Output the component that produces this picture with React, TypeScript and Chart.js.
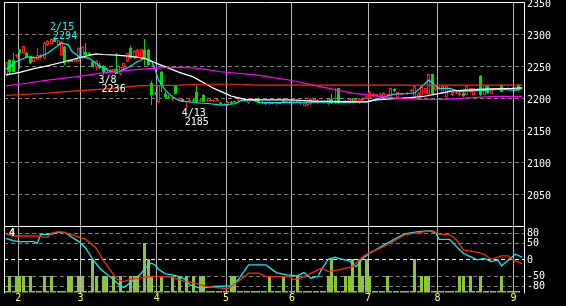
import React, { useEffect, useRef } from 'react';
import { Chart, registerables } from 'chart.js';

Chart.register(...registerables);

// ---------- data ----------
const OPEN = [
  2236, 2259, 2259, 2265, 2276, 2271, 2270, 2265, 2257, 2260,
  2262, 2262, 2283, 2285, 2294, 2283, 2267, 2280, 2256, 2259,
  2257, 2258, 2262, 2272, 2270, 2257, 2249, 2252, 2250, 2239,
  2242, 2241, 2245, 2237, 2247, 2258, 2278, 2262, 2264, 2262,
  2275, 2275, 2223, 2208, 2194, 2240, 2207, 2202, 2198, 2220,
  2198, 2198, 2193, 2195, 2197, 2210, 2196, 2205, 2195, 2197,
  2196, 2196, 2192, 2189, 2189, 2193, 2194, 2196, 2197, 2195,
  2192, 2197, 2198, 2199, 2193, 2193, 2190, 2192, 2190, 2192,
  2195, 2193, 2194, 2193, 2193, 2190, 2188, 2189, 2190, 2193,
  2192, 2194, 2195, 2190, 2199, 2192, 2215, 2193, 2194, 2192,
  2198, 2196, 2192, 2195, 2199, 2200, 2204, 2203, 2201, 2202,
  2204, 2200, 2214, 2200, 2205, 2200, 2206, 2211, 2200, 2203,
  2202, 2208, 2206, 2237, 2212, 2214, 2208, 2202, 2210, 2204,
  2208, 2204, 2208, 2205, 2209, 2205, 2212, 2234, 2205, 2219,
  2207, 2213, 2214, 2220, 2213, 2214, 2214, 2213, 2221,
];
const HIGH = [
  2257, 2261, 2270, 2268, 2277, 2282, 2272, 2266, 2265, 2278,
  2268, 2287, 2290, 2293, 2294, 2291, 2289, 2282, 2261, 2260,
  2262, 2279, 2281, 2286, 2272, 2259, 2259, 2254, 2252, 2249,
  2245, 2246, 2270, 2249, 2255, 2271, 2281, 2275, 2276, 2277,
  2292, 2277, 2226, 2210, 2221, 2242, 2209, 2204, 2201, 2221,
  2201, 2199, 2196, 2198, 2199, 2218, 2198, 2206, 2198, 2199,
  2198, 2199, 2194, 2192, 2195, 2195, 2196, 2198, 2199, 2198,
  2200, 2200, 2200, 2200, 2195, 2194, 2193, 2194, 2193, 2194,
  2200, 2195, 2196, 2195, 2196, 2195, 2193, 2194, 2200, 2199,
  2199, 2197, 2197, 2199, 2207, 2215, 2216, 2196, 2197, 2200,
  2200, 2199, 2200, 2200, 2203, 2211, 2208, 2207, 2208, 2209,
  2207, 2216, 2215, 2210, 2208, 2202, 2209, 2214, 2220, 2209,
  2220, 2216, 2238, 2238, 2220, 2218, 2220, 2220, 2214, 2210,
  2211, 2209, 2210, 2220, 2216, 2216, 2215, 2236, 2221, 2220,
  2216, 2216, 2216, 2222, 2216, 2217, 2216, 2216, 2222,
];
const LOW = [
  2234, 2238, 2240, 2262, 2246, 2270, 2263, 2253, 2256, 2259,
  2261, 2261, 2282, 2284, 2287, 2282, 2266, 2252, 2255, 2256,
  2256, 2257, 2261, 2266, 2265, 2248, 2244, 2246, 2236, 2238,
  2240, 2240, 2237, 2236.5, 2246, 2257, 2261, 2261, 2263, 2261,
  2251, 2250, 2189, 2204, 2192, 2210, 2200, 2198, 2196, 2206,
  2197, 2193, 2185, 2193, 2194, 2193, 2194, 2193, 2194, 2195,
  2194, 2195, 2189, 2188, 2188, 2191, 2192, 2194, 2195, 2194,
  2191, 2196, 2195, 2192, 2191, 2189, 2189, 2190, 2189, 2190,
  2193, 2192, 2192, 2191, 2192, 2189, 2187, 2188, 2189, 2192,
  2191, 2193, 2193, 2189, 2191, 2191, 2191, 2192, 2193, 2191,
  2196, 2195, 2191, 2194, 2198, 2199, 2202, 2202, 2200, 2200,
  2203, 2199, 2210, 2199, 2204, 2199, 2205, 2210, 2199, 2202,
  2201, 2207, 2205, 2206, 2211, 2212, 2207, 2201, 2209, 2203,
  2206, 2203, 2202, 2204, 2208, 2204, 2211, 2203, 2204, 2207,
  2206, 2212, 2212, 2209, 2212, 2213, 2213, 2212, 2211,
];
const CLOSE = [
  2256, 2240, 2241, 2267, 2271, 2281, 2264, 2254, 2264, 2267,
  2267, 2286, 2289, 2292, 2288, 2290, 2288, 2254, 2260, 2257,
  2261, 2278, 2280, 2267, 2266, 2249, 2258, 2247, 2240, 2247,
  2243, 2245, 2238, 2248, 2254, 2270, 2262, 2274, 2275, 2276,
  2262, 2252, 2205, 2206, 2220, 2220, 2202, 2200, 2200, 2207,
  2200, 2194, 2195, 2196, 2195, 2194, 2197, 2194, 2197, 2196,
  2197, 2198, 2190, 2191, 2194, 2192, 2193, 2197, 2196, 2197,
  2199, 2199, 2196, 2193, 2192, 2190, 2192, 2191, 2192, 2191,
  2194, 2194, 2193, 2194, 2195, 2194, 2192, 2193, 2199, 2198,
  2197, 2196, 2194, 2198, 2192, 2194, 2192, 2195, 2196, 2199,
  2197, 2198, 2199, 2199, 2202, 2210, 2207, 2206, 2207, 2208,
  2206, 2215, 2211, 2209, 2207, 2201, 2208, 2213, 2219, 2208,
  2219, 2215, 2237, 2207, 2219, 2216, 2219, 2219, 2212, 2209,
  2210, 2208, 2203, 2219, 2215, 2215, 2214, 2204, 2220, 2208,
  2215, 2215, 2215, 2210, 2215, 2216, 2215, 2215, 2212,
];
const VOLUME = [
  4, 50, 4, 50, 50, 50, 4, 50, 4, 4,
  4, 50, 4, 50, 4, 4, 4, 4, 50, 50,
  4, 50, 50, 4, 4, 100, 50, 4, 50, 50,
  4, 50, 4, 50, 4, 4, 50, 50, 50, 4,
  150, 100, 50, 4, 4, 50, 4, 4, 50, 4,
  50, 4, 50, 4, 50, 4, 50, 50, 4, 4,
  4, 4, 4, 4, 4, 50, 50, 4, 4, 4,
  4, 4, 4, 4, 4, 4, 50, 4, 4, 4,
  50, 4, 4, 4, 50, 4, 4, 4, 4, 4,
  4, 4, 4, 50, 100, 50, 4, 4, 50, 50,
  100, 4, 100, 50, 100, 50, 4, 4, 4, 4,
  50, 4, 4, 4, 4, 4, 4, 4, 100, 4,
  50, 50, 50, 4, 4, 4, 4, 4, 4, 4,
  4, 50, 50, 4, 50, 4, 4, 50, 4, 4,
  4, 4, 4, 50, 4, 4, 4, 4, 4,
];

// moving averages: [day index, price]
const MA_SHORT = [
  [0, 2245], [3, 2257], [6, 2264], [9, 2263], [12, 2270], [14, 2278], [16, 2286], [18, 2283],
  [19, 2273], [21, 2265], [24, 2262], [27, 2250], [30, 2242], [32, 2240], [35, 2247], [38, 2257],
  [40, 2262], [42, 2257], [43, 2245], [44, 2228], [46, 2212], [48, 2202], [50, 2196], [54, 2193],
  [59, 2191], [62, 2189], [66, 2191], [68, 2196], [71, 2197], [73, 2193], [76, 2193], [82, 2193],
  [91, 2194], [98, 2193], [104, 2194], [106, 2197], [112, 2206], [116, 2207], [118, 2208],
  [120, 2218], [122, 2228], [125, 2215], [128, 2215], [131, 2210], [134, 2211], [138, 2212],
  [143, 2214], [147, 2212], [149, 2215],
];
const MA_MID = [
  [0, 2236], [4, 2240], [8, 2246], [11, 2249], [17, 2257], [22, 2264], [26, 2269], [28, 2268],
  [32, 2267], [36, 2265], [40, 2262], [44, 2253], [50, 2240], [54, 2233], [60, 2215], [65, 2203],
  [69, 2198], [74, 2197], [82, 2197], [89, 2195], [104, 2194], [107, 2197], [109, 2198],
  [115, 2200], [120, 2202], [124, 2206], [129, 2211], [138, 2214], [146, 2215], [149, 2216],
];
const MA_LONG = [
  [0, 2219], [6, 2223], [12, 2228], [20, 2233], [27, 2238.5], [33, 2242], [39, 2245], [46, 2247.5],
  [52, 2248], [56, 2246], [62, 2241], [72, 2236], [78, 2231], [83, 2227], [90, 2218.5], [95, 2213],
  [100, 2207.5], [105, 2204.5], [110, 2201], [114, 2199], [120, 2198], [126, 2198], [131, 2199.5],
  [136, 2201], [141, 2202.5], [149, 2202.5],
];
const MA_XLONG = [
  [0, 2204], [5, 2205.5], [12, 2207.5], [20, 2211], [28, 2214], [34, 2216.5], [38, 2219],
  [50, 2220], [56, 2221.5], [68, 2221.5], [72, 2220], [149, 2220],
];

// oscillator lines: [day index, value]
const OSC_FAST = [
  [0, 65], [2, 58], [4, 55], [8, 55], [9, 50], [10, 77], [13, 77], [15, 83], [17, 83], [18, 75],
  [21, 55], [23, 35], [25, 2], [27, -25], [29, -42], [31, -60], [33, -78], [34, -83], [35, -75],
  [37, -60], [39, -40], [41, -15], [42, -10], [43, -15], [44, -28], [46, -42], [48, -45], [50, -50],
  [52, -60], [53, -75], [56, -85], [60, -80], [65, -78], [67, -60], [69, -30], [70, -15], [75, -15],
  [78, -38], [81, -45], [84, -48], [86, -38], [88, -55], [90, -50], [91, -30], [93, 2], [95, 8],
  [97, 2], [99, -2], [101, -20], [103, 5], [105, 20], [109, 45], [115, 78], [119, 85], [122, 87],
  [124, 82], [125, 62], [128, 62], [130, 40], [132, 20], [134, 10], [136, 0], [138, 5], [140, -5],
  [142, 0], [143, -18], [145, 0], [147, 17], [149, 8],
];
const OSC_SLOW = [
  [0, 78], [2, 72], [8, 72], [12, 68], [13, 80], [15, 85], [17, 82], [20, 72], [23, 62], [26, 35],
  [28, 0], [30, -30], [32, -58], [34, -65], [36, -58], [39, -55], [41, -50], [46, -50], [48, -52],
  [50, -60], [52, -65], [54, -68], [58, -80], [64, -87], [67, -65], [70, -40], [73, -40], [75, -50],
  [82, -50], [83, -60], [85, -55], [89, -35], [91, -25], [93, -35], [96, -30], [100, -20], [103, 10],
  [105, 22], [109, 40], [115, 75], [119, 82], [123, 88], [125, 77], [128, 77], [130, 60], [132, 30],
  [136, 23], [138, 17], [140, 2], [143, 12], [145, 12], [146, 2], [149, -12],
];

// month boundaries (between trading days) and their labels
const MONTH_POS = [3.5, 21.5, 43.5, 63.5, 82.5, 104.5, 124.5, 146.5];
const MONTH_LABELS = ['2', '3', '4', '5', '6', '7', '8', '9'];
const PRICE_TICKS = [2050, 2100, 2150, 2200, 2250, 2300, 2350];
const OSC_TICKS = [-80, -50, 0, 50, 80];

// high / low notes
const NOTE_DAY = [14, 28, 52];
const NOTE_DATE = ['2/15', '3/8', '4/13'];
const NOTE_PRICE = [2294, 2236, 2185];
const NOTE_KIND = ['high', 'low', 'low'];
const NOTE_COLOR = ['#00ffff', '#ffffff', '#ffffff'];

// ---------- styles ----------
const FONT = '"DejaVu Sans Mono", monospace';
const UP = '#ff1a1a';
const DOWN = '#00dd00';
const VOL = '#8cc43c';
const X_MIN = -0.6;
const X_MAX = 149.5;

const DAYS = OPEN.map((_, i) => i);
const isUp = DAYS.map((i) => CLOSE[i] >= OPEN[i]);

// snap bar elements to whole pixels so thin candles stay crisp
const snapPlugin = {
  id: 'snap',
  beforeDatasetsDraw(chart) {
    chart.getSortedVisibleDatasetMetas().forEach((meta) => {
      if (meta.type !== 'bar') return;
      meta.data.forEach((el) => {
        const w = Math.round(el.width || 1);
        el.x = w % 2 === 1 ? Math.floor(el.x) + 0.5 : Math.round(el.x);
        const y = Math.round(el.y);
        let b = Math.round(el.base);
        if (Math.abs(y - b) < 1) b = y + 1;
        el.y = y;
        el.base = b;
      });
    });
  },
};

const makeFrame = (withBottom) => ({
  id: 'frame' + (withBottom ? 'B' : 'N'),
  afterDraw(chart) {
    const { ctx, chartArea: a } = chart;
    ctx.save();
    ctx.strokeStyle = '#ffffff';
    ctx.lineWidth = 1;
    ctx.beginPath();
    ctx.moveTo(a.left + 0.5, a.top);
    ctx.lineTo(a.left + 0.5, a.bottom + 1);
    ctx.moveTo(a.left, a.top + 0.5);
    ctx.lineTo(a.right + 1, a.top + 0.5);
    ctx.moveTo(a.right + 0.5, a.top);
    ctx.lineTo(a.right + 0.5, a.bottom + 1);
    if (withBottom) {
      ctx.moveTo(a.left, a.bottom + 0.5);
      ctx.lineTo(a.right + 1, a.bottom + 0.5);
    }
    ctx.stroke();
    ctx.restore();
  },
});

const notePlugin = {
  id: 'notes',
  afterDatasetsDraw(chart) {
    const { ctx } = chart;
    const x = chart.scales.x;
    const y = chart.scales.y;
    ctx.save();
    ctx.font = `10px ${FONT}`;
    ctx.textAlign = 'left';
    ctx.textBaseline = 'alphabetic';
    NOTE_DAY.forEach((d, k) => {
      const px = x.getPixelForValue(d) - 4.5;
      const py = y.getPixelForValue(NOTE_PRICE[k]);
      ctx.fillStyle = NOTE_COLOR[k];
      if (NOTE_KIND[k] === 'high') {
        ctx.fillText(NOTE_DATE[k], px, py - 7.5);
        ctx.fillText(String(NOTE_PRICE[k]), px + 3, py + 1.5);
      } else {
        ctx.fillText(NOTE_DATE[k], px, py + 8.5);
        ctx.fillText(String(NOTE_PRICE[k]), px + 3, py + 17);
      }
    });
    ctx.restore();
  },
};

const unitPlugin = {
  id: 'unit',
  afterDatasetsDraw(chart) {
    const { ctx, chartArea: a } = chart;
    ctx.save();
    ctx.font = `bold 10px ${FONT}`;
    ctx.fillStyle = '#ffffff';
    ctx.textBaseline = 'alphabetic';
    ctx.fillText('4', a.left + 5, a.top + 9.5);
    ctx.restore();
  },
};

const lineDs = (pts, color, axis, width) => ({
  type: 'line',
  data: pts.map(([x, y]) => ({ x, y })),
  borderColor: color,
  borderWidth: width,
  pointRadius: 0,
  tension: 0,
  fill: false,
  yAxisID: axis,
  order: 0,
});

const xScale = (showLabels, height) => ({
  type: 'linear',
  min: X_MIN,
  max: X_MAX,
  bounds: 'data',
  offset: false,
  afterBuildTicks: (s) => {
    s.ticks = MONTH_POS.map((v) => ({ value: v }));
  },
  afterFit: (s) => {
    s.height = height;
    s.paddingLeft = 0;
    s.paddingRight = 0;
  },
  ticks: {
    display: showLabels,
    autoSkip: false,
    maxRotation: 0,
    padding: 0,
    color: '#ffff80',
    font: { family: FONT, size: 10 },
    callback: (_v, idx) => MONTH_LABELS[idx] ?? '',
  },
  grid: { color: '#b4b4b4', lineWidth: 1, drawTicks: false, offset: false },
  border: { display: false },
});

export default function App() {
  const mainRef = useRef(null);
  const subRef = useRef(null);

  useEffect(() => {
    const common = {
      animation: false,
      responsive: false,
      maintainAspectRatio: false,
      devicePixelRatio: 1,
      events: [],
    };

    const main = new Chart(mainRef.current, {
      type: 'bar',
      data: {
        datasets: [
          {
            type: 'bar',
            data: DAYS.map((i) => ({ x: i, y: [LOW[i], HIGH[i]] })),
            backgroundColor: DAYS.map((i) => (isUp[i] ? UP : DOWN)),
            barThickness: 1,
            grouped: false,
            minBarLength: 1,
            borderWidth: 0,
            inflateAmount: 0,
            order: 3,
          },
          {
            type: 'bar',
            data: DAYS.map((i) => ({ x: i, y: [OPEN[i], CLOSE[i]] })),
            backgroundColor: DAYS.map((i) => (isUp[i] ? '#000000' : DOWN)),
            borderColor: DAYS.map((i) => (isUp[i] ? UP : DOWN)),
            borderWidth: 1,
            borderSkipped: false,
            barThickness: 3,
            grouped: false,
            minBarLength: 1,
            inflateAmount: 0,
            order: 2,
          },
          lineDs(MA_XLONG, '#ff2a00', 'y', 1.2),
          lineDs(MA_LONG, '#ff00ff', 'y', 1.2),
          lineDs(MA_MID, '#ffffff', 'y', 1.2),
          lineDs(MA_SHORT, '#00e8ff', 'y', 1.2),
        ],
      },
      options: {
        ...common,
        layout: { padding: { left: 4, top: 2, right: 0, bottom: 2 } },
        plugins: { legend: { display: false }, tooltip: { enabled: false } },
        scales: {
          x: xScale(false, 0),
          y: {
            type: 'linear',
            position: 'right',
            min: 2000,
            max: 2350,
            bounds: 'data',
            beginAtZero: false,
            afterBuildTicks: (s) => {
              s.ticks = PRICE_TICKS.map((v) => ({ value: v }));
            },
            afterFit: (s) => {
              s.width = 42;
              s.paddingTop = 0;
              s.paddingBottom = 0;
            },
            ticks: {
              color: '#ffffff',
              font: { family: FONT, size: 10 },
              padding: 3,
              labelOffset: 2,
              callback: (v) => String(v),
            },
            grid: {
              color: (c) => (c.tick && c.tick.value === 2350 ? 'rgba(0,0,0,0)' : '#808080'),
              lineWidth: 1,
              drawTicks: false,
            },
            border: { display: false, dash: [4, 3] },
          },
        },
      },
      plugins: [snapPlugin, notePlugin, makeFrame(true)],
    });

    const sub = new Chart(subRef.current, {
      type: 'bar',
      data: {
        datasets: [
          {
            type: 'bar',
            data: DAYS.map((i) => ({ x: i, y: VOLUME[i] })),
            backgroundColor: VOL,
            barThickness: 3,
            grouped: false,
            borderWidth: 0,
            inflateAmount: 0,
            yAxisID: 'yv',
            order: 2,
          },
          lineDs(OSC_SLOW, '#ff2a00', 'y', 1.3),
          lineDs(OSC_FAST, '#00f0ff', 'y', 1.3),
        ],
      },
      options: {
        ...common,
        layout: { padding: { left: 4, top: 0, right: 0, bottom: 0 } },
        plugins: { legend: { display: false }, tooltip: { enabled: false } },
        scales: {
          x: xScale(true, 13.5),
          y: {
            type: 'linear',
            position: 'right',
            min: -98,
            max: 102,
            bounds: 'data',
            afterBuildTicks: (s) => {
              s.ticks = OSC_TICKS.map((v) => ({ value: v }));
            },
            afterFit: (s) => {
              s.width = 42;
              s.paddingTop = 0;
              s.paddingBottom = 0;
            },
            ticks: {
              color: '#ffffff',
              font: { family: FONT, size: 10 },
              padding: 3,
              callback: (v) => String(v),
            },
            grid: {
              color: (c) => (c.tick && c.tick.value === 0 ? '#ffffff' : '#808080'),
              lineWidth: 1,
              drawTicks: false,
            },
            border: { display: false, dash: [4, 3] },
          },
          yv: {
            type: 'linear',
            display: false,
            min: 0,
            max: 200,
          },
        },
      },
      plugins: [snapPlugin, unitPlugin, makeFrame(false)],
    });

    return () => {
      main.destroy();
      sub.destroy();
    };
  }, []);

  return (
    <div
      style={{
        position: 'fixed',
        left: 0,
        top: 0,
        width: 566,
        height: 306,
        background: '#000000',
        overflow: 'hidden',
      }}
    >
      <canvas
        ref={mainRef}
        width={566}
        height={228}
        style={{ position: 'absolute', left: 0, top: 0, width: 566, height: 228 }}
      />
      <canvas
        ref={subRef}
        width={566}
        height={80}
        style={{ position: 'absolute', left: 0, top: 226, width: 566, height: 80 }}
      />
    </div>
  );
}
